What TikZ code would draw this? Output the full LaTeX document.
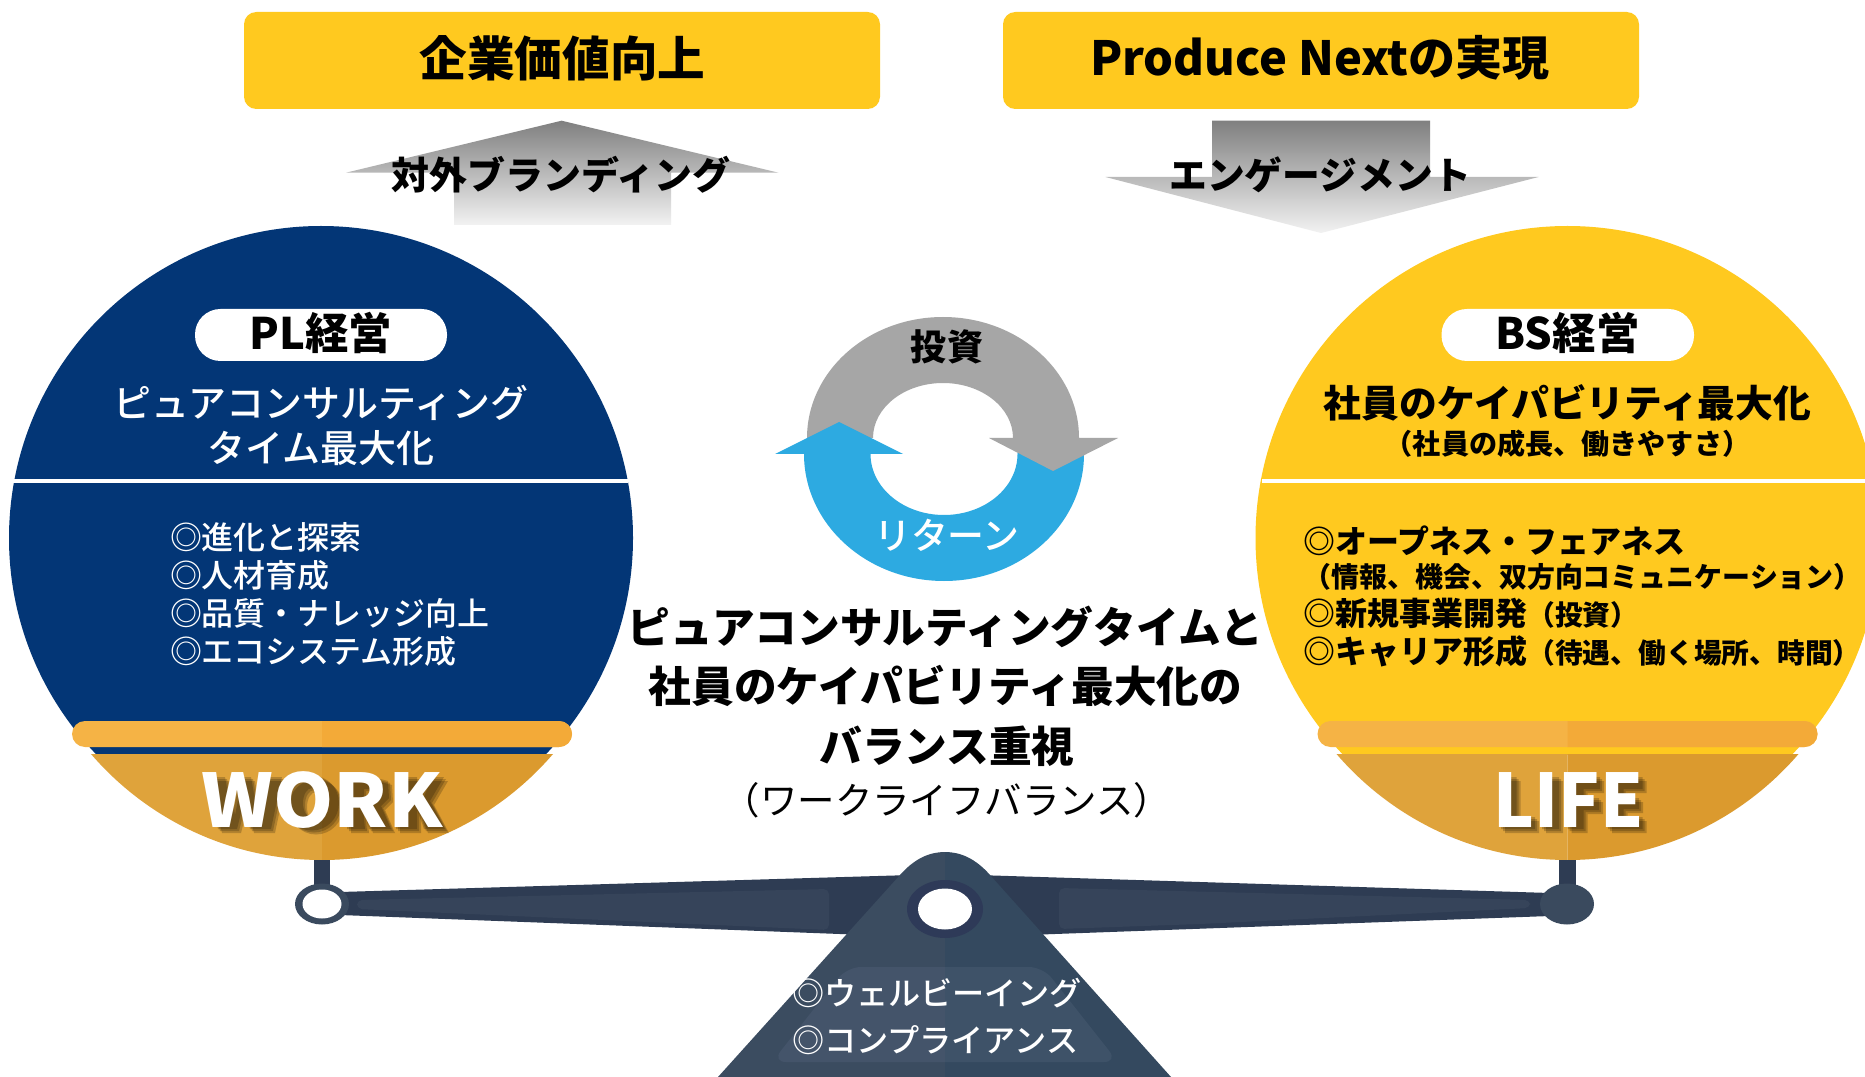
\documentclass[tikz,border=0pt]{standalone}
\usepackage{fontspec}
\setmainfont{Noto Sans CJK JP}
\newfontfamily\medface{Noto Sans CJK JP Medium}
\newfontfamily\heavyface{Noto Sans CJK JP Black}
\definecolor{navy}{HTML}{033676}
\definecolor{gold}{HTML}{FFC91F}
\definecolor{bowlL}{HTML}{DFA33B}
\definecolor{bowlR}{HTML}{DB9A2E}
\definecolor{bandL}{HTML}{F5B345}
\definecolor{bandR}{HTML}{F3AA38}
\definecolor{beam}{HTML}{2E3C53}
\definecolor{beamin}{HTML}{36445A}
\definecolor{ballc}{HTML}{3A4A5E}
\definecolor{fulL}{HTML}{3B4C60}
\definecolor{fulR}{HTML}{34495F}
\definecolor{trapL}{HTML}{44546A}
\definecolor{trapR}{HTML}{3E5268}
\definecolor{holec}{HTML}{2E3A58}
\definecolor{cycblue}{HTML}{2DAAE1}
\definecolor{cycgrey}{HTML}{A6A6A6}
\newcommand{\workoutline}{
  (202,774) -- (222,774) -- (228,808) -- (235,774) -- (248,774) -- (254,808) -- (260,774) -- (279,774) -- (268,826) -- (247,826) -- (240.5,800) -- (234,826) -- (215,826) -- cycle
  (309,800) ellipse [x radius=27,y radius=27.5] (309,800) ellipse [x radius=9,y radius=15]
  (344,774) -- (370,774) -- (385,778) -- (386,795) -- (378,803) -- (388,826) -- (366,826) -- (360,806) -- (362,826) -- (344,826) -- cycle
  (361,786) -- (368,786) -- (368,796) -- (361,796) -- cycle
  (393,774) -- (414,774) -- (414,796) -- (424,774) -- (441,774) -- (427,798) -- (442,826) -- (421,826) -- (414,806) -- (414,826) -- (393,826) -- cycle}
\newcommand{\lifeoutline}{
  (1498,774) -- (1513.5,774) -- (1513.5,814) -- (1532,814) -- (1532,826) -- (1498,826) -- cycle
  (1539,774) -- (1556,774) -- (1556,826) -- (1539,826) -- cycle
  (1564.5,774) -- (1597,774) -- (1597,786) -- (1580.6,786) -- (1580.6,795) -- (1596,795) -- (1596,807) -- (1580.6,807) -- (1580.6,826) -- (1564.5,826) -- cycle
  (1605,774) -- (1639.5,774) -- (1639.5,786) -- (1620.5,786) -- (1620.5,795) -- (1636,795) -- (1636,806) -- (1620.5,806) -- (1620.5,814) -- (1639.5,814) -- (1639.5,826) -- (1605,826) -- cycle}
\tikzset{
  x=0.02cm,y=-0.02cm,
  txt/.style={inner sep=0pt,outer sep=0pt,font=\medface\fontsize{#1}{#1}\selectfont},
  txtb/.style={inner sep=0pt,outer sep=0pt,font=\bfseries\fontsize{#1}{#1}\selectfont},
  plain/.style={inner sep=0pt,outer sep=0pt,font=\fontsize{#1}{#1}\selectfont},
  listw/.style={txt=18.2pt,anchor=west,text=white},
  listb/.style={txtb=18.2pt,anchor=west,text=black},
  topbox/.style={fill=gold,rounded corners=7pt},
  pill/.style={fill=white,rounded corners=14.5pt},
  grad/.style={top color=black!50,bottom color=black!5,draw=none},
  letterpad/.style={black,opacity=.2,even odd rule},
  heavytext/.style={inner sep=0pt,outer sep=0pt,font=\heavyface\fontsize{42pt}{42pt}\selectfont,text=white}
}
\begin{document}
\begin{tikzpicture}
\path[clip] (0,0) rectangle (1865,1077);
\fill[white] (0,0) rectangle (1865,1077);

% top boxes
\fill[topbox] (244,12) rectangle (880,109);
\fill[topbox] (1003,12) rectangle (1639,109);
\node[txtb=27.1pt] (t1) at (562.5,58) {企業価値向上};
\node[txtb=26.8pt] (t2) at (1320,58) {Produce Nextの実現};

% gradient arrows
\shade[grad] (561.6,120.7) -- (778.5,172.7) -- (671,172.7) -- (671,225) -- (454,225) -- (454,172.7) -- (346,172.7) -- cycle;
\shade[grad] (1212,120.7) -- (1430,120.7) -- (1430,177) -- (1538.5,177) -- (1321,233) -- (1105.5,177) -- (1212,177) -- cycle;
\node[txtb=21.6pt] (a1) at (561,175) {対外ブランディング};
\node[txtb=21.5pt] (a2) at (1320,175) {エンゲージメント};

% pans
\begin{scope}
\clip (0,0) rectangle (1865,754);
\fill[navy] (321,538) circle [radius=312];
\end{scope}
\begin{scope}
\clip (0,0) rectangle (1865,754);
\fill[gold] (1567.5,538) circle [radius=312];
\end{scope}
\fill[white] (12,478.5) rectangle (628,482.5);
\fill[white] (1262,478.5) rectangle (1865,482.5);

% pills
\fill[pill] (195,309) rectangle (447,361);
\fill[pill] (1441.5,309) rectangle (1694,361);
\node[txtb=24.7pt] (pl) at (321,333) {PL経営};
\node[txtb=24.7pt] (bs) at (1567.5,333) {BS経営};

\node[txt=21.6pt,text=white] (l1) at (321,403) {ピュアコンサルティング};
\node[txt=21.6pt,text=white] (l2) at (321,448) {タイム最大化};
\node[txtb=21.5pt] (r1) at (1567.5,403) {社員のケイパビリティ最大化};
\node[txtb=16pt] (r2) at (1567.5,443.6) {（社員の成長、働きやすさ）};

\node[listw] (ll1) at (170,537.6) {◎進化と探索};
\node[listw] (ll2) at (170,575.7) {◎人材育成};
\node[listw] (ll3) at (170,613.7) {◎品質・ナレッジ向上};
\node[listw] (ll4) at (170,651.8) {◎エコシステム形成};

\node[listb] (rl1) at (1303.6,541) {◎オープネス・フェアネス};
\node[txtb=15.9pt,anchor=west] (rl2) at (1303.6,577) {（情報、機会、双方向コミュニケーション）};
\node[listb] (rl3) at (1303.6,613.7) {◎新規事業開発{\fontsize{15.8pt}{15.8pt}\selectfont（投資）}};
\node[listb] (rl4) at (1303.6,651.8) {◎キャリア形成{\fontsize{15.8pt}{15.8pt}\selectfont（待遇、働く場所、時間）}};

% bands and bowls
\foreach \cx/\hw/\bw in {322/250/231,1567.5/250/231}{
  \fill[bandL,rounded corners=7.4pt] (\cx-\hw,721) rectangle (\cx+\hw,747);
  \begin{scope}
    \clip (\cx,700) rectangle (\cx+\hw+5,760);
    \fill[bandR,rounded corners=7.4pt] (\cx-\hw,721) rectangle (\cx+\hw,747);
  \end{scope}
  \begin{scope}
    \clip (\cx-\bw-5,754) rectangle (\cx,900);
    \fill[bowlL] (\cx,555.3) circle [radius=304.7];
  \end{scope}
  \begin{scope}
    \clip (\cx,754) rectangle (\cx+\bw+5,900);
    \fill[bowlR] (\cx,555.3) circle [radius=304.7];
  \end{scope}
}
\foreach \off in {7,5,3}{
  \fill[letterpad,shift={(\off,\off)}] \workoutline;
  \fill[letterpad,shift={(\off,\off)}] \lifeoutline;
}
\node[heavytext,xscale=1.04] (w) at (322,800) {WORK};
\node[heavytext,xscale=.93] (li) at (1568.6,800) {LIFE};

% beam
\fill[beam] (314,860) rectangle (330,890);
\fill[beam] (1559,860) rectangle (1575.5,890);
\fill[beam] (340,892) -- (945,874) -- (1550,893) -- (1550,916) -- (945,938) -- (340,915) -- cycle;
\fill[beamin,rounded corners=3pt] (357,900) -- (829,889) -- (829,930) -- (700,924.3) -- (357,909) -- cycle;
\fill[beamin,rounded corners=3pt] (1530,900) -- (1059,888) -- (1059,929) -- (1200,924) -- (1530,908) -- cycle;
\fill[ballc] (322,904) ellipse [x radius=27,y radius=20.5];
\fill[white] (322,904) ellipse [x radius=19.5,y radius=14.5];
\fill[ballc] (1567,904) ellipse [x radius=27,y radius=20.5];

% fulcrum
\begin{scope}
\clip (0,0) rectangle (945,1077);
\fill[fulL] (718,1077) -- (900,875) .. controls (915,858) and (930,852) .. (945,852) .. controls (960,852) and (975,858) .. (990,875) -- (1171,1077) -- cycle;
\fill[trapL,rounded corners=8pt] (847,967) -- (1043,967) -- (1118,1062) -- (772,1062) -- cycle;
\end{scope}
\begin{scope}
\clip (945,0) rectangle (1865,1077);
\fill[fulR] (718,1077) -- (900,875) .. controls (915,858) and (930,852) .. (945,852) .. controls (960,852) and (975,858) .. (990,875) -- (1171,1077) -- cycle;
\fill[trapR,rounded corners=8pt] (847,967) -- (1043,967) -- (1118,1062) -- (772,1062) -- cycle;
\end{scope}
\fill[holec] (945,909) ellipse [x radius=38,y radius=29];
\fill[white] (945,909) ellipse [x radius=27,y radius=20.5];
\node[txt=18.3pt,text=white,anchor=west] (f1) at (792,993) {◎ウェルビーイング};
\node[txt=18.3pt,text=white,anchor=west] (f2) at (792,1040.5) {◎コンプライアンス};

% cycle
\begin{scope}
\clip (780,300) rectangle (1120,438);
\fill[cycgrey,even odd rule] (943,438) ellipse [x radius=136,y radius=121] (943,438) ellipse [x radius=70,y radius=55];
\end{scope}
\begin{scope}
\clip (780,454) rectangle (1120,600);
\fill[cycblue,even odd rule] (944,454) ellipse [x radius=140,y radius=127] (944,454) ellipse [x radius=73.5,y radius=61];
\end{scope}
\fill[cycgrey] (989,438) -- (1118,438) -- (1053,471) -- cycle;
\fill[cycblue] (775,454) -- (839,422) -- (903,454) -- cycle;
\node[txtb=20.5pt] (inv) at (947,347) {投資};
\node[txt=21pt,text=white] (ret) at (947,535) {リターン};

% centre text
\node[txtb=24.3pt] (c1) at (945.5,627) {ピュアコンサルティングタイムと};
\node[txtb=24.3pt] (c2) at (945.5,686) {社員のケイパビリティ最大化の};
\node[txtb=24.3pt] (c3) at (947,746) {バランス重視};
\node[plain=21.3pt] (c4) at (947,800.5) {（ワークライフバランス）};
\end{tikzpicture}
\end{document}
